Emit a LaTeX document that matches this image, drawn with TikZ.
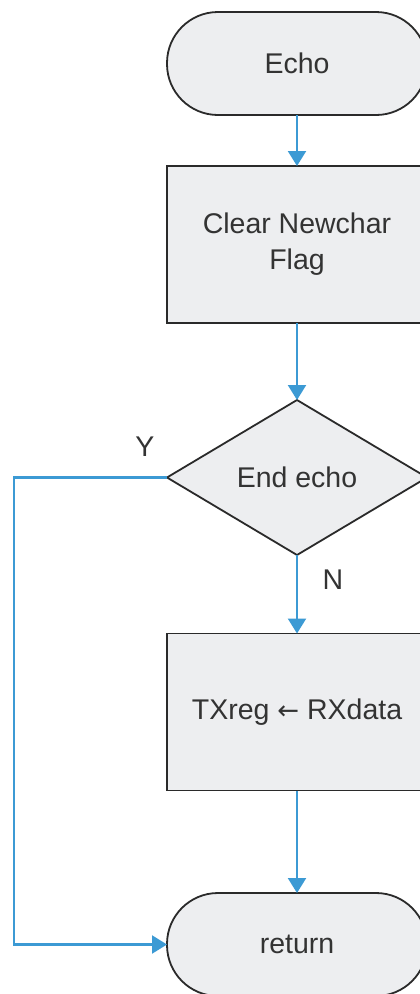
\documentclass[tikz,border=0pt]{standalone}
\usepackage{fontspec}
\setmainfont{Liberation Sans}
\newfontfamily\arrowfont{DejaVu Sans}
\usetikzlibrary{shapes.geometric,arrows.meta}
\definecolor{boxfill}{HTML}{EDEEF0}
\definecolor{boxline}{HTML}{2A2A2A}
\definecolor{flow}{HTML}{3C9AD4}
\definecolor{txt}{HTML}{333333}
\begin{document}
\begin{tikzpicture}[x=1pt,y=-1pt,
  every node/.style={font=\fontsize{28.5}{36}\selectfont, text=txt},
  shapebase/.style={draw=boxline, fill=boxfill, line width=1.8pt, inner sep=0pt, outer sep=0pt, align=center},
  terminal/.style={shapebase, rectangle, rounded corners=51pt, minimum width=260pt, minimum height=103pt},
  process/.style={shapebase, rectangle, minimum width=260pt, minimum height=157pt},
  decision/.style={shapebase, diamond, minimum width=260pt, minimum height=155pt},
  flowline/.style={draw=flow, line width=2.2pt},
  flowarrow/.style={flowline, -{Triangle[width=18pt,length=15pt]}},
  tag/.style={text=txt}
]
\useasboundingbox[fill=white] (0,0) rectangle (420,994);

\node[terminal] (echo) at (297,63.5) {Echo};
\node[process]  (clear) at (297,244.5) {Clear Newchar\\Flag};
\node[decision] (endecho) at (297,477.5) {End echo};
\node[process]  (copy) at (297,712) {TXreg {\arrowfont\fontsize{26}{36}\selectfont ←} RXdata};
\node[terminal] (ret) at (297,944.5) {return};

\coordinate (yturn) at (14,477.5);
\coordinate (ydown) at (14,944.5);

\draw[flowarrow] (echo.south) -- (clear.north);
\draw[flowarrow] (clear.south) -- (endecho.north);
\draw[flowarrow] (endecho.south) -- (copy.north);
\draw[flowarrow] (copy.south) -- (ret.north);
\draw[flowarrow] (endecho.west) -- (yturn) -- (ydown) -- (ret.west);

\node[tag] (ylab) at (145,447) {Y};
\node[tag] (nlab) at (333,580) {N};
\end{tikzpicture}
\end{document}
